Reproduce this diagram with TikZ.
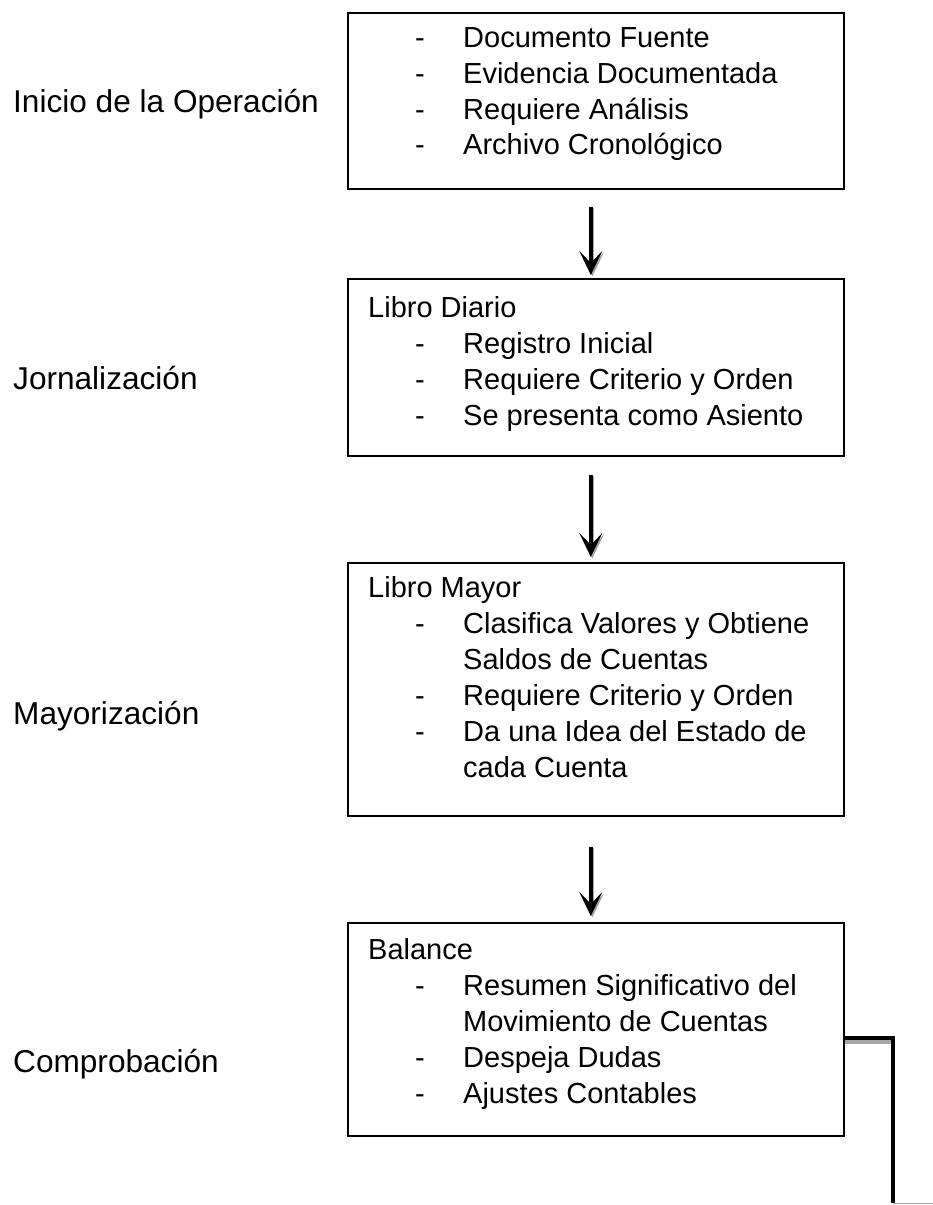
\documentclass[tikz,border=0pt]{standalone}
\usepackage{fontspec}
\setmainfont{Liberation Sans}
\usetikzlibrary{arrows.meta}
\begin{document}
\begin{tikzpicture}[x=1pt,y=-1pt,
  box/.style={draw=black,line width=1.6pt,rectangle,inner sep=0pt,anchor=north west},
  txt/.style={anchor=base west,inner sep=0pt,font=\fontsize{29}{36}\selectfont},
  lbl/.style={anchor=base west,inner sep=0pt,font=\fontsize{31.6}{38}\selectfont},
  arr/.style={line width=4pt,-{Stealth[length=24pt,width=23pt,inset=12pt]}},
  shad/.style={draw=black!35},
  link/.style={line width=4.6pt}]
\useasboundingbox (0,0) rectangle (933,1205);
% boxes
\node[box,minimum width=496pt,minimum height=176pt] (b1) at (347,12) {};
\node[box,minimum width=496pt,minimum height=177pt] (b2) at (347,278) {};
\node[box,minimum width=496pt,minimum height=253pt] (b3) at (347,562) {};
\node[box,minimum width=496pt,minimum height=213pt] (b4) at (347,922) {};
% left labels
\node[lbl] (l1) at (13,112) {Inicio de la Operación};
\node[lbl] (l2) at (13,389) {Jornalización};
\node[lbl] (l3) at (13,724) {Mayorización};
\node[lbl] (l4) at (13,1072) {Comprobación};
% box 1
\node[txt] (d11) at (415,47) {-};  \node[txt] (t11) at (463,47) {Documento Fuente};
\node[txt] (d12) at (415,83) {-};  \node[txt] (t12) at (463,83) {Evidencia Documentada};
\node[txt] (d13) at (415,119) {-}; \node[txt] (t13) at (463,119) {Requiere Análisis};
\node[txt] (d14) at (415,154) {-}; \node[txt] (t14) at (463,154) {Archivo Cronológico};
% box 2
\node[txt] (h2) at (368,317) {Libro Diario};
\node[txt] (d21) at (415,353) {-}; \node[txt] (t21) at (463,353) {Registro Inicial};
\node[txt] (d22) at (415,389) {-}; \node[txt] (t22) at (463,389) {Requiere Criterio y Orden};
\node[txt] (d23) at (415,425) {-}; \node[txt] (t23) at (463,425) {Se presenta como Asiento};
% box 3
\node[txt] (h3) at (368,597) {Libro Mayor};
\node[txt] (d31) at (415,633) {-}; \node[txt] (t31) at (463,633) {Clasifica Valores y Obtiene};
\node[txt] (t32) at (463,669) {Saldos de Cuentas};
\node[txt] (d33) at (415,705) {-}; \node[txt] (t33) at (463,705) {Requiere Criterio y Orden};
\node[txt] (d34) at (415,741) {-}; \node[txt] (t34) at (463,741) {Da una Idea del Estado de};
\node[txt] (t35) at (463,777) {cada Cuenta};
% box 4
\node[txt] (h4) at (368,959) {Balance};
\node[txt] (d41) at (415,995) {-}; \node[txt] (t41) at (463,995) {Resumen Significativo del};
\node[txt] (t42) at (463,1031) {Movimiento de Cuentas};
\node[txt] (d43) at (415,1067) {-}; \node[txt] (t43) at (463,1067) {Despeja Dudas};
\node[txt] (d44) at (415,1103) {-}; \node[txt] (t44) at (463,1103) {Ajustes Contables};
% arrows (shadow first)
\foreach \a/\b/\s/\e in {b1/b2/17/3,b2/b3/18/5,b3/b4/30/6}{
  \draw[arr,shad] ([xshift=-3.5pt,yshift=-\s pt-1.5pt]\a.south) -- ([xshift=-3.5pt,yshift=\e pt-1.5pt]\b.north);
  \draw[arr] ([xshift=-5pt,yshift=-\s pt]\a.south) -- ([xshift=-5pt,yshift=\e pt]\b.north);
}
% connector from box 4
\coordinate (c1) at (893,1038);
\coordinate (c2) at (893,1203);
\coordinate (c3) at (933,1203);
\draw[link,draw=black!35] ([yshift=-4pt]b4.east |- c1) -- ([yshift=-4pt]c1);
\draw[line width=1pt,draw=black!35] (c2) -- (c3);
\draw[link] (b4.east |- c1) -- (c1) -- (c2);
\end{tikzpicture}
\end{document}
